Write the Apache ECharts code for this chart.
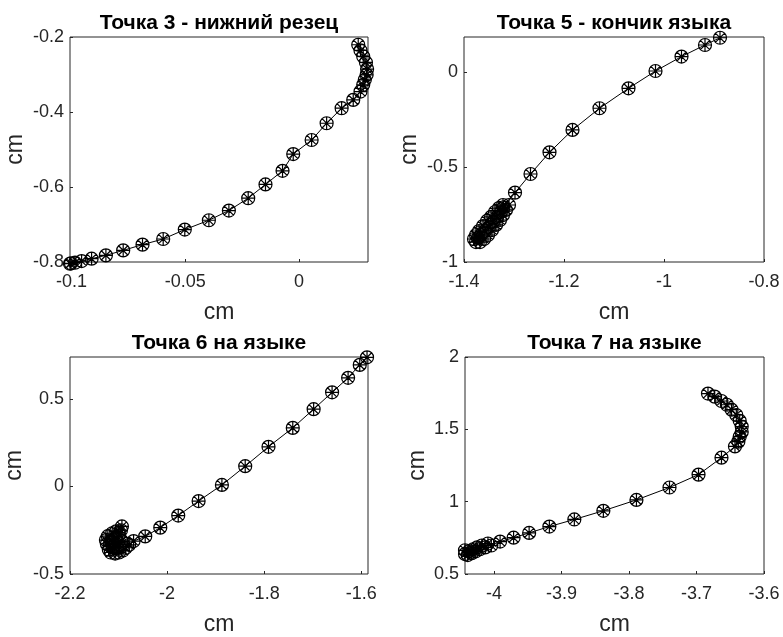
<!DOCTYPE html>
<html>
<head>
<meta charset="utf-8">
<script src="https://cdn.jsdelivr.net/npm/echarts@6/dist/echarts.min.js"></script>
<style>
  html, body { margin: 0; padding: 0; background: #fff; }
  #chart { width: 783px; height: 637px; }
</style>
</head>
<body>
<div id="chart"></div>
<script>
// панели: траектории точек (cm)
const titles = ['Точка 3 - нижний резец', 'Точка 5 - кончик языка', 'Точка 6 на языке', 'Точка 7 на языке']

const p3X = [-0.1007, -0.1003, -0.0985, -0.0956, -0.0912, -0.0849, -0.0773, -0.0688, -0.0597, -0.0502,
  -0.0396, -0.0308, -0.0223, -0.0147, -0.0072, -0.0025, 0.0056, 0.0122, 0.0188, 0.0239,
  0.0271, 0.0283, 0.0290, 0.0298, 0.0300, 0.0295, 0.0283, 0.0271, 0.0261]
const p3Y = [-0.8046, -0.8035, -0.8019, -0.7976, -0.7912, -0.7823, -0.7690, -0.7537, -0.7387, -0.7136,
  -0.6887, -0.6628, -0.6299, -0.5932, -0.5568, -0.5122, -0.4747, -0.4300, -0.3899, -0.3677,
  -0.3455, -0.3276, -0.3142, -0.3008, -0.2856, -0.2679, -0.2519, -0.2358, -0.2206]

const p5X = [-1.372, -1.366, -1.358, -1.350, -1.342, -1.334, -1.326,
  -1.322, -1.330, -1.338, -1.346, -1.354, -1.362, -1.370, -1.376, -1.380,
  -1.376, -1.368, -1.360, -1.352, -1.344, -1.336, -1.328, -1.322, -1.316, -1.310,
  -1.321, -1.298, -1.267, -1.229, -1.183, -1.129, -1.071, -1.017, -0.965, -0.918, -0.888]
const p5Y = [-0.874, -0.858, -0.837, -0.816, -0.789, -0.763, -0.737,
  -0.700, -0.716, -0.737, -0.763, -0.784, -0.811, -0.837, -0.858, -0.879,
  -0.895, -0.895, -0.879, -0.858, -0.832, -0.805, -0.779, -0.753, -0.726, -0.700,
  -0.712, -0.635, -0.537, -0.423, -0.305, -0.191, -0.086, 0.005, 0.081, 0.142, 0.180]

const p6X = [-2.093, -2.095, -2.099, -2.105, -2.111, -2.118, -2.120, -2.116, -2.107, -2.099,
  -2.091, -2.085, -2.078, -2.093, -2.101, -2.109, -2.124, -2.126, -2.122, -2.113, -2.105,
  -2.069, -2.045, -2.014, -1.977, -1.935, -1.887, -1.839, -1.791, -1.741,
  -1.698, -1.660, -1.627, -1.603, -1.588]
const p6Y = [-0.228, -0.250, -0.272, -0.294, -0.317, -0.339, -0.361, -0.377, -0.383, -0.377,
  -0.366, -0.350, -0.333, -0.311, -0.322, -0.333, -0.328, -0.306, -0.284, -0.267, -0.256,
  -0.312, -0.285, -0.235, -0.166, -0.083, 0.009, 0.116, 0.227, 0.335,
  0.442, 0.538, 0.621, 0.695, 0.738]

const p7X = [-4.043, -4.043, -4.039, -4.037, -4.033, -4.031, -4.027, -4.025, -4.021, -4.018,
  -4.013, -4.009, -4.004, -3.991, -3.971, -3.948, -3.918,
  -3.881, -3.838, -3.789, -3.740, -3.697, -3.663, -3.643, -3.638, -3.636, -3.633,
  -3.633, -3.636, -3.641, -3.648, -3.655, -3.663, -3.673, -3.683]
const p7Y = [0.638, 0.664, 0.631, 0.658, 0.644, 0.671, 0.657, 0.684, 0.671, 0.697,
  0.684, 0.711, 0.697, 0.724, 0.751, 0.784, 0.828,
  0.877, 0.937, 1.012, 1.098, 1.187, 1.304, 1.382, 1.415, 1.449, 1.482,
  1.519, 1.559, 1.599, 1.636, 1.670, 1.696, 1.726, 1.747]

// пределы осей и подписи делений
const xLims = [[-0.1007, 0.0304], [-1.4, -0.8], [-2.2, -1.586], [-4.043, -3.6]]
const yLims = [[-0.8, -0.2], [-1, 0.184], [-0.5, 0.74], [0.5, 2]]
const xTicks = [[-0.1, -0.05, 0], [-1.4, -1.2, -1, -0.8], [-2.2, -2, -1.8, -1.6], [-4, -3.9, -3.8, -3.7, -3.6]]
const yTicks = [[-0.8, -0.6, -0.4, -0.2], [-1, -0.5, 0], [-0.5, 0, 0.5], [0.5, 1, 1.5, 2]]

const allX = [p3X, p5X, p6X, p7X]
const allY = [p3Y, p5Y, p6Y, p7Y]

const grids = [
  { left: 70, top: 37, width: 298, height: 225 },
  { left: 464, top: 37, width: 300, height: 225 },
  { left: 70, top: 357, width: 298, height: 224 },
  { left: 465, top: 357, width: 299, height: 226 }
]
const yNameGap = [43, 43, 44, 36]

const FONT = 'Liberation Sans, Arial, sans-serif'
const TXT = '#262626'
// кружок со звёздочкой
const MARK = 'path://M0,-10 A10,10 0 1,1 0,10 A10,10 0 1,1 0,-10 Z M0,-10 L0,10 M-10,0 L10,0 M-7.07,-7.07 L7.07,7.07 M-7.07,7.07 L7.07,-7.07'

const chart = echarts.init(document.getElementById('chart'), null, { renderer: 'canvas' })

const option = {
  backgroundColor: '#fff',
  animation: false,
  grid: grids.map(g => Object.assign({ show: true, borderColor: TXT, borderWidth: 1, backgroundColor: '#fff' }, g)),
  xAxis: xLims.map((lim, i) => ({
    type: 'value',
    gridIndex: i,
    min: lim[0],
    max: lim[1],
    axisLine: { show: false, onZero: false },
    splitLine: { show: false },
    axisTick: { show: true, inside: true, length: 3, customValues: xTicks[i], lineStyle: { color: TXT } },
    axisLabel: { customValues: xTicks[i], color: TXT, fontSize: 18, fontFamily: FONT, margin: 11 },
    name: 'cm',
    nameLocation: 'middle',
    nameGap: 39,
    nameTextStyle: { color: TXT, fontSize: 23, fontFamily: FONT }
  })),
  yAxis: yLims.map((lim, i) => ({
    type: 'value',
    gridIndex: i,
    min: lim[0],
    max: lim[1],
    axisLine: { show: false, onZero: false },
    splitLine: { show: false },
    axisTick: { show: true, inside: true, length: 3, customValues: yTicks[i], lineStyle: { color: TXT } },
    axisLabel: { customValues: yTicks[i], color: TXT, fontSize: 18, fontFamily: FONT, margin: 6 },
    name: 'cm',
    nameLocation: 'middle',
    nameGap: yNameGap[i],
    nameTextStyle: { color: TXT, fontSize: 23, fontFamily: FONT }
  })),
  series: allX.map((xs, i) => ({
    type: 'line',
    xAxisIndex: i,
    yAxisIndex: i,
    clip: false,
    data: xs.map((x, k) => [x, allY[i][k]]),
    symbol: MARK,
    symbolSize: 13,
    showSymbol: true,
    lineStyle: { color: '#000', width: 1 },
    itemStyle: { color: 'rgba(0,0,0,0)', borderColor: '#000', borderWidth: 1.2 }
  })),
  graphic: grids.map((g, i) => ({
    type: 'text',
    x: g.left + g.width / 2,
    y: g.top - 14,
    style: {
      text: titles[i],
      font: 'bold 21px ' + FONT,
      fill: '#000',
      textAlign: 'center',
      textVerticalAlign: 'middle'
    }
  }))
}

chart.setOption(option)
</script>
</body>
</html>
